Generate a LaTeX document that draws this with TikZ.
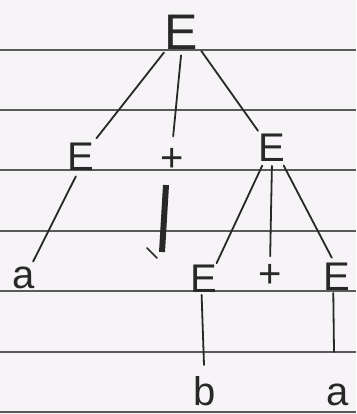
\documentclass[tikz,border=0pt]{standalone}
\usepackage{fontspec}
\setmainfont{Liberation Sans}
\definecolor{paper}{RGB}{246,244,246}
\definecolor{rule}{RGB}{90,90,90}
\definecolor{ink}{RGB}{40,40,40}
\begin{document}
\begin{tikzpicture}[x=1pt,y=-1pt,
  sym/.style={inner sep=0pt,text=ink,font=\fontsize{50}{50}\selectfont},
  small/.style={inner sep=0pt,text=ink,font=\fontsize{40}{40}\selectfont},
  edge/.style={draw=ink,line width=1.8pt,line cap=round},
  paperline/.style={draw=rule,line width=1.6pt}]
\fill[paper] (0,0) rectangle (356,414);
\useasboundingbox (0,0) rectangle (356,414);
% ruled lines
\foreach \yy in {50,110,170,231,291,352,412}
  \draw[paperline] (0,\yy) -- (356,\yy);
% nodes
\node[sym] (root) at (181,32) {E};
\node[small] (E1) at (81,157) {E};
\node[small] (p1) at (172,160) {+};
\node[small] (E2) at (272,148) {E};
\node[small] (a1) at (24,278) {a};
\node[small] (E3) at (204,279) {E};
\node[small] (p2) at (270,276) {+};
\node[small] (E4) at (337,277) {E};
\node[small] (b) at (205,391) {b};
\node[small] (a2) at (338,395) {a};
\coordinate (s1) at (166,185);
\coordinate (s2) at (162,252);
\coordinate (t1) at (147,248);
\coordinate (t2) at (157,258);
\coordinate (bl) at (204,365);
\coordinate (al) at (334,352);
% connectors
\draw[edge,shorten >=6pt,shorten <=4pt] (root.-130) -- (E1.50);
\draw[edge,shorten >=12pt,shorten <=6pt] (root.-88) -- (p1.north);
\draw[edge,shorten >=4pt,shorten <=6pt] (root.-40) -- (E2.130);
\draw[edge,shorten >=6pt,shorten <=6pt] (E1.-100) -- (a1.60);
\draw[edge,shorten >=2pt,shorten <=4pt] (E2.-120) -- (E3.50);
\draw[edge,shorten >=8pt,shorten <=4pt] (E2.-90) -- (p2.north);
\draw[edge,shorten >=6pt,shorten <=4pt] (E2.-55) -- (E4.100);
\draw[edge,shorten <=2pt] (E3.-100) -- (bl);
\draw[edge,shorten <=2pt] (E4.-105) -- (al);
% scribbled-out stroke under +
\draw[ink,line width=6pt] (s1) -- (s2);
\draw[ink,line width=1.5pt,line cap=round] (t1) -- (t2);
\end{tikzpicture}
\end{document}
